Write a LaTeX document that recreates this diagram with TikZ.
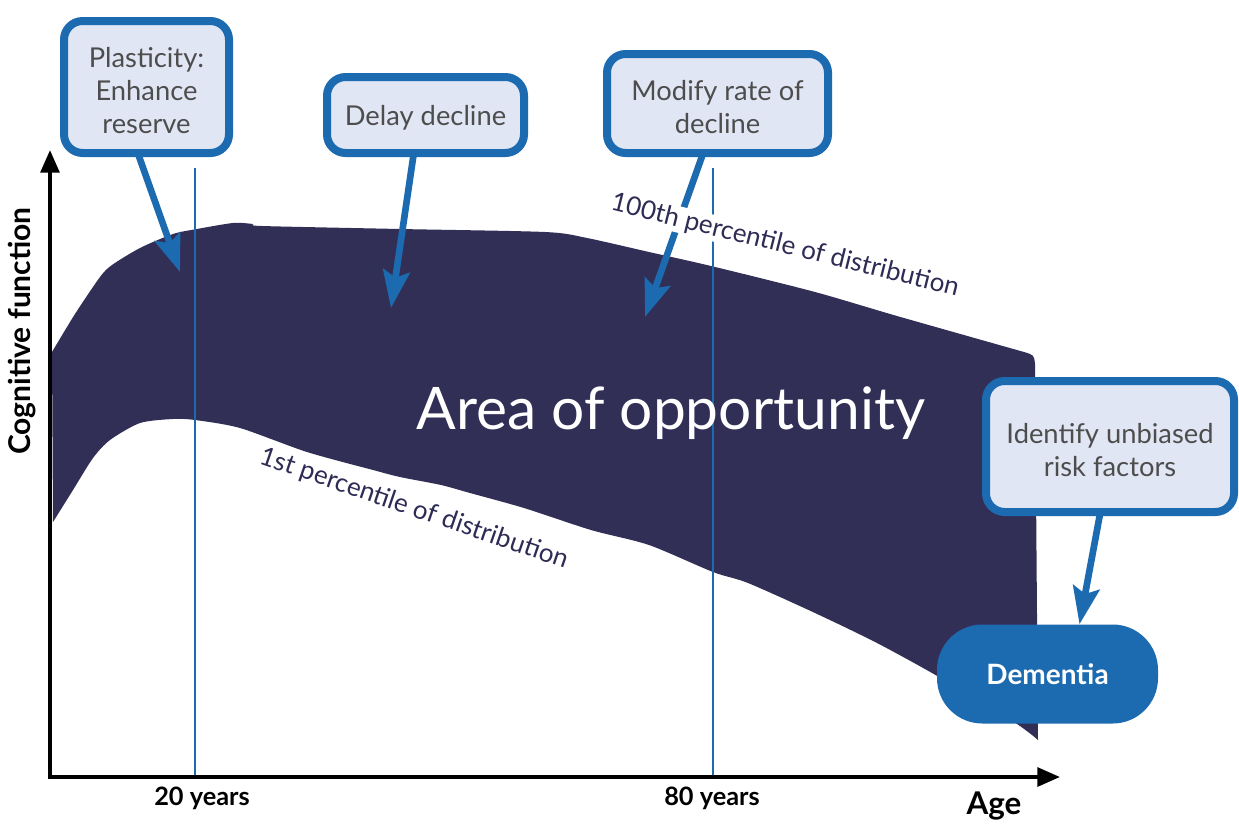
\documentclass[tikz,border=0pt]{standalone}
\usepackage{fontspec}
\setmainfont{Lato}
\usetikzlibrary{arrows.meta,calc}
\definecolor{band}{HTML}{322F57}
\definecolor{cblue}{HTML}{1C6AB0}
\definecolor{boxfill}{HTML}{E1E6F4}
\definecolor{boxtext}{HTML}{4D4D4D}
\definecolor{navy}{HTML}{2E2B55}
\begin{document}
\begin{tikzpicture}[x=0.75pt,y=-0.75pt,
  infobox/.style={draw=cblue, line width=6pt, fill=boxfill, rounded corners=14pt, inner sep=0pt},
  boxlabel/.style={text=boxtext, align=center, font=\fontsize{20.5}{24.75}\selectfont, inner sep=0pt},
  dembox/.style={fill=cblue, rounded corners=34pt, text=white, inner sep=0pt,
    minimum width=165.75pt, minimum height=74.25pt, font=\fontsize{21}{25}\selectfont\bfseries},
  pointer/.style={draw=cblue, line width=5pt, -{Stealth[length=28pt,width=20pt,inset=5pt]}},
  axisline/.style={draw=black, line width=3pt, -{Triangle[length=17pt,width=14pt]}},
  vline/.style={draw=cblue, line width=1.4pt},
  pct/.style={text=navy, font=\fontsize{19.5}{22}\selectfont, inner sep=1pt},
  axlabel/.style={text=black, font=\bfseries, inner sep=0pt}]
\useasboundingbox (0,0) rectangle (1239,832);
\fill[white] (0,0) rectangle (1239,832);

% band of cognitive function
\fill[band] plot[smooth, tension=0.45] coordinates {(52,352) (75,314) (100,277) (112,265) (140,248) (173,234) (197,229) (233,223) (253,224) (262,226) (400,229) (545,232) (587,238) (649,252) (711,266) (815,292) (897,316) (1024,352)}
  .. controls (1034,355) .. (1035,364) -- (1038,740)
  -- plot[smooth, tension=0.45] coordinates {(1038,740) (1014,722) (939,677) (877,643) (815,613) (748,583) (713,572) (649,545) (591,530) (524,508) (470,493) (441,485) (400,477) (373,470) (307,452) (240,428) (195,420) (173,419) (140,423) (110,440) (93,458) (73,490) (53,522)} -- cycle;

% vertical guide lines
\coordinate (v1t) at (195,168); \coordinate (v1b) at (195,777);
\coordinate (v2t) at (713,168); \coordinate (v2b) at (713,777);
\draw[vline] (v1t) -- (v1b);
\draw[vline] (v2t) -- (v2b);

% axes
\coordinate (xo) at (48,777); \coordinate (xe) at (1060,777);
\coordinate (yo) at (50,779); \coordinate (ye) at (50,150);
\draw[axisline] (xo) -- (xe);
\draw[axisline] (yo) -- (ye);

% boxes
\node[infobox, minimum width=123.75pt, minimum height=99pt] (b1) at (146.5,87) {};
\node[infobox, minimum width=147.75pt, minimum height=57pt] (b2) at (425.5,115) {};
\node[infobox, minimum width=165.75pt, minimum height=74.25pt] (b3) at (717.5,103.5) {};
\node[infobox, minimum width=186pt, minimum height=98.25pt] (b4) at (1110,446.5) {};
\node[dembox] (dem) at (1047.5,674) {Dementia};
\node[boxlabel] (l1) at ($(b1)+(0,4)$) {Plasticity:\\Enhance\\reserve};
\node[boxlabel] (l2) at ($(b2)+(0,3)$) {Delay decline};
\node[boxlabel] (l3) at ($(b3)+(0,4)$) {Modify rate of\\decline};
\node[boxlabel] (l4) at ($(b4)+(0,4)$) {Identify unbiased\\risk factors};

% pointers
\coordinate (t1) at (180,272);
\coordinate (t2) at (391,308);
\coordinate (t3) at (645,317);
\draw[pointer] ($(b1.south)+(-8,-2)$) -- (t1);
\draw[pointer] ($(b2.south)+(-12,-2)$) -- (t2);
\draw[pointer] ($(b3.south)+(-15,-2)$) -- (t3);
\draw[pointer] ($(b4.south)+(-10,-2)$) -- ($(dem.north)+(32,0)$);

% labels
\node[text=white, font=\fontsize{44}{52}\selectfont, inner sep=0pt] (area) at (671,413) {Area of opportunity};
\node[pct, rotate=-14, fill=white] (p100) at (785,246) {100th percentile of distribution};
\node[pct, rotate=-19] (p1) at (414,509) {1st percentile of distribution};
\node[axlabel, rotate=90, font=\fontsize{22.5}{26}\selectfont\bfseries] (ylab) at (22,331) {Cognitive function};
\node[axlabel, font=\fontsize{19}{22}\selectfont\bfseries] (y20) at (202,798) {20 years};
\node[axlabel, font=\fontsize{19}{22}\selectfont\bfseries] (y80) at (712,798) {80 years};
\node[axlabel, font=\fontsize{23.5}{27}\selectfont\bfseries] (age) at (994,806) {Age};
\end{tikzpicture}
\end{document}
